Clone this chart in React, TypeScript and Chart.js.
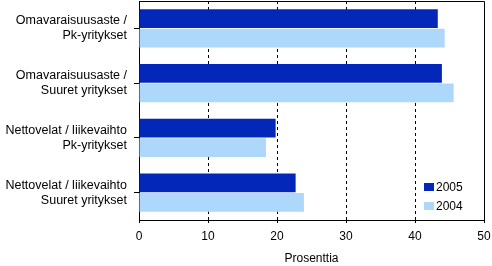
import React, { useEffect, useRef } from "react";
import { Chart, registerables } from "chart.js";

Chart.register(...registerables);

const categories: string[][] = [
  ["Omavaraisuusaste /", "Pk-yritykset"],
  ["Omavaraisuusaste /", "Suuret yritykset"],
  ["Nettovelat / liikevaihto", "Pk-yritykset"],
  ["Nettovelat / liikevaihto", "Suuret yritykset"],
];
const series2005: number[] = [43.3, 43.9, 19.8, 22.7];
const series2004: number[] = [44.3, 45.6, 18.4, 23.9];
const seriesLabels = ["2005", "2004"];
const xTicks = [0, 10, 20, 30, 40, 50];
const axisTitle = "Prosenttia";

const DARK = "#0328b9";
const LIGHT = "#add8fb";
const FONT = "'Liberation Sans', Arial, sans-serif";

const boxPlugin = {
  id: "plotBox",
  afterDraw(chart: any) {
    const { ctx, chartArea } = chart;
    const { left, right, top, bottom } = chartArea;
    ctx.save();
    ctx.strokeStyle = "#000";
    ctx.lineWidth = 1;
    ctx.beginPath();
    ctx.moveTo(Math.round(left) + 0.5, Math.round(top) + 0.5);
    ctx.lineTo(Math.round(right) + 0.5, Math.round(top) + 0.5);
    ctx.lineTo(Math.round(right) + 0.5, Math.round(bottom) + 0.5);
    ctx.stroke();

    // legend inside the plot, bottom right
    const ds = chart.data.datasets;
    ctx.font = `12px ${FONT}`;
    ctx.textBaseline = "middle";
    ctx.textAlign = "left";
    const bx = Math.round(right) - 60;
    const ys = [bottom - 33, bottom - 14];
    ds.forEach((d: any, i: number) => {
      const y = ys[i];
      ctx.fillStyle = d.backgroundColor;
      ctx.fillRect(bx, Math.round(y - 4), 10, 8);
      ctx.fillStyle = "#000";
      ctx.fillText(d.label, bx + 12, y + 0.5);
    });
    ctx.restore();
  },
};

export default function App() {
  const ref = useRef<HTMLCanvasElement | null>(null);
  useEffect(() => {
    document.body.style.margin = "0";
    const c = ref.current!;
    const chart = new Chart(c, {
      type: "bar",
      data: {
        labels: categories,
        datasets: [
          {
            label: seriesLabels[0],
            data: series2005,
            backgroundColor: DARK,
            borderWidth: 0,
            categoryPercentage: 0.72,
            barPercentage: 0.95,
          },
          {
            label: seriesLabels[1],
            data: series2004,
            backgroundColor: LIGHT,
            borderWidth: 0,
            categoryPercentage: 0.72,
            barPercentage: 0.95,
          },
        ],
      },
      options: {
        indexAxis: "y",
        animation: false,
        responsive: false,
        maintainAspectRatio: false,
        layout: { padding: { top: 1, right: 8, left: 0, bottom: 0 } },
        plugins: {
          legend: { display: false },
          tooltip: { enabled: false },
        },
        scales: {
          x: {
            type: "linear",
            min: 0,
            max: 50,
            afterBuildTicks: (scale: any) => {
              scale.ticks = xTicks.map((v) => ({ value: v }));
            },
            afterFit: (scale: any) => {
              scale.height = 46;
              scale.paddingLeft = 0;
              scale.paddingRight = 0;
            },
            ticks: {
              color: "#000",
              font: { family: FONT, size: 12 },
              padding: 6,
              maxRotation: 0,
            },
            grid: {
              display: true,
              drawOnChartArea: true,
              drawTicks: true,
              tickLength: 3,
              tickColor: "#000",
              color: (ctx: any) =>
                ctx.tick && (ctx.tick.value === 0 || ctx.tick.value === 50)
                  ? "rgba(0,0,0,0)"
                  : "#000",
            },
            border: { display: true, color: "#000", width: 1, dash: [3, 3] },
            title: {
              display: true,
              text: axisTitle,
              color: "#000",
              font: { family: FONT, size: 12 },
              padding: { top: 0, bottom: 0 },
            },
          },
          y: {
            type: "category",
            afterFit: (scale: any) => {
              scale.width = 139;
              scale.paddingTop = 0;
              scale.paddingBottom = 0;
            },
            ticks: {
              color: "#000",
              font: { family: FONT, size: 12.5, lineHeight: 1.2 },
              padding: 7,
              autoSkip: false,
            },
            grid: {
              display: true,
              drawOnChartArea: false,
              drawTicks: true,
              tickLength: 5,
              tickColor: "#000",
              offset: false,
            },
            border: { display: true, color: "#000", width: 1 },
          },
        },
      },
      plugins: [boxPlugin],
    } as any);
    return () => chart.destroy();
  }, []);
  return (
    <div style={{ position: "absolute", left: 0, top: 0, width: 492, height: 266 }}>
      <canvas ref={ref} width={492} height={266} style={{ width: 492, height: 266 }} />
    </div>
  );
}
